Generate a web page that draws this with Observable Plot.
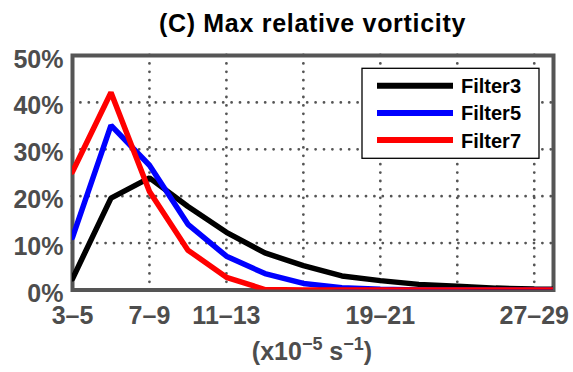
<!DOCTYPE html>
<html>
<head>
<meta charset="utf-8">
<script src="https://cdn.jsdelivr.net/npm/d3@7"></script>
<script src="https://cdn.jsdelivr.net/npm/@observablehq/plot@0.6"></script>
<style>
  html, body { margin: 0; padding: 0; background: #fff; }
  #title { box-sizing: border-box; width: 573px; height: 40px; padding: 8px 20px 0 72px;
    text-align: center; font-family: "Liberation Sans", Arial, sans-serif; font-weight: bold;
    font-size: 25px; line-height: 30px; letter-spacing: 0.7px; color: #000; white-space: nowrap; }
</style>
</head>
<body>
<div id="title">(C) Max relative vorticity</div>
<div id="chart"></div>
<script>
const categories = ["3–5","5–7","7–9","9–11","11–13","13–15","15–17","17–19","19–21","21–23","23–25","25–27","27–29","29–31"];
const filter3 = [2.4, 19.6, 23.9, 17.8, 12.3, 7.9, 5.2, 3.0, 2.0, 1.2, 0.8, 0.4, 0.2, 0.1];
const filter5 = [11.2, 35.1, 26.6, 14.0, 7.2, 3.5, 1.4, 0.5, 0.15, 0, 0, 0, 0, 0];
const filter7 = [25.2, 42.1, 21.0, 8.5, 2.7, 0.1, 0, 0, 0, 0, 0, 0, 0, 0];
const series = ["Filter3", "Filter5", "Filter7"];
const colors = ["#000000", "#0000ff", "#ff0000"];
const yTicks = [0, 10, 20, 30, 40, 50];
const xLabelTicks = [0, 2, 4, 8, 12];
const xGrid = [2, 4, 6, 8, 10, 12];

const values = [filter3, filter5, filter7];
const rows = values.map((arr, s) => arr.map((v, i) => ({i, v, s: series[s]})));

const dotted = {stroke: "#555", strokeWidth: 2.8, strokeDasharray: "0,8.4", strokeLinecap: "round"};
const FONT = "Liberation Sans, Arial, sans-serif";

const plot = Plot.plot({
  width: 573, height: 332,
  marginTop: 15, marginBottom: 82.5, marginLeft: 72, marginRight: 20,
  style: {fontFamily: FONT, fontWeight: "bold", fontSize: "25px", color: "#4d4d4d", background: "#fff"},
  x: {domain: [0, 12.5], label: null},
  y: {domain: [0, 50], label: null},
  marks: [
    Plot.ruleY(yTicks.slice(1, -1), dotted),
    Plot.ruleX(xGrid, dotted),
    Plot.frame({stroke: "#555", strokeWidth: 4}),
    ...rows.map((r, s) => Plot.line(r, {x: "i", y: "v", stroke: colors[s], strokeWidth: 5.5, strokeLinejoin: "miter", clip: true})),
    Plot.axisY({ticks: yTicks, tickFormat: d => d + "%", tickSize: 0, tickPadding: 9, fontSize: 25, dy: 4, label: null}),
    Plot.axisX({ticks: xLabelTicks, tickFormat: i => categories[i], tickSize: 0, tickPadding: 16, fontSize: 25, label: null})
  ]
});
document.getElementById("chart").appendChild(plot);

const svg = d3.select(plot);
// x axis label with superscripts
const xl = svg.append("text")
  .attr("x", 312).attr("y", 320)
  .attr("text-anchor", "middle")
  .attr("fill", "#4d4d4d")
  .style("font-family", FONT)
  .style("font-weight", "bold").style("font-size", "25px");
xl.append("tspan").text("(x10");
xl.append("tspan").attr("dy", -10).style("font-size", "18px").text("−5");
xl.append("tspan").attr("dy", 10).text(" s");
xl.append("tspan").attr("dy", -10).style("font-size", "18px").text("−1");
xl.append("tspan").attr("dy", 10).text(")");

// legend
const lg = svg.append("g").style("font-family", FONT)
  .style("font-weight", "bold").style("font-size", "20px").attr("text-anchor", "start");
lg.append("rect").attr("x", 362).attr("y", 28.3).attr("width", 177).attr("height", 90)
  .attr("fill", "#fff").attr("stroke", "#000").attr("stroke-width", 1.3);
series.forEach((name, k) => {
  const yy = 45.7 + k * 27.2;
  lg.append("line").attr("x1", 377).attr("x2", 453).attr("y1", yy).attr("y2", yy)
    .attr("stroke", colors[k]).attr("stroke-width", 6);
  lg.append("text").attr("x", 461).attr("y", yy + 7.5).attr("text-anchor", "start").attr("fill", "#000").text(name);
});
</script>
</body>
</html>
